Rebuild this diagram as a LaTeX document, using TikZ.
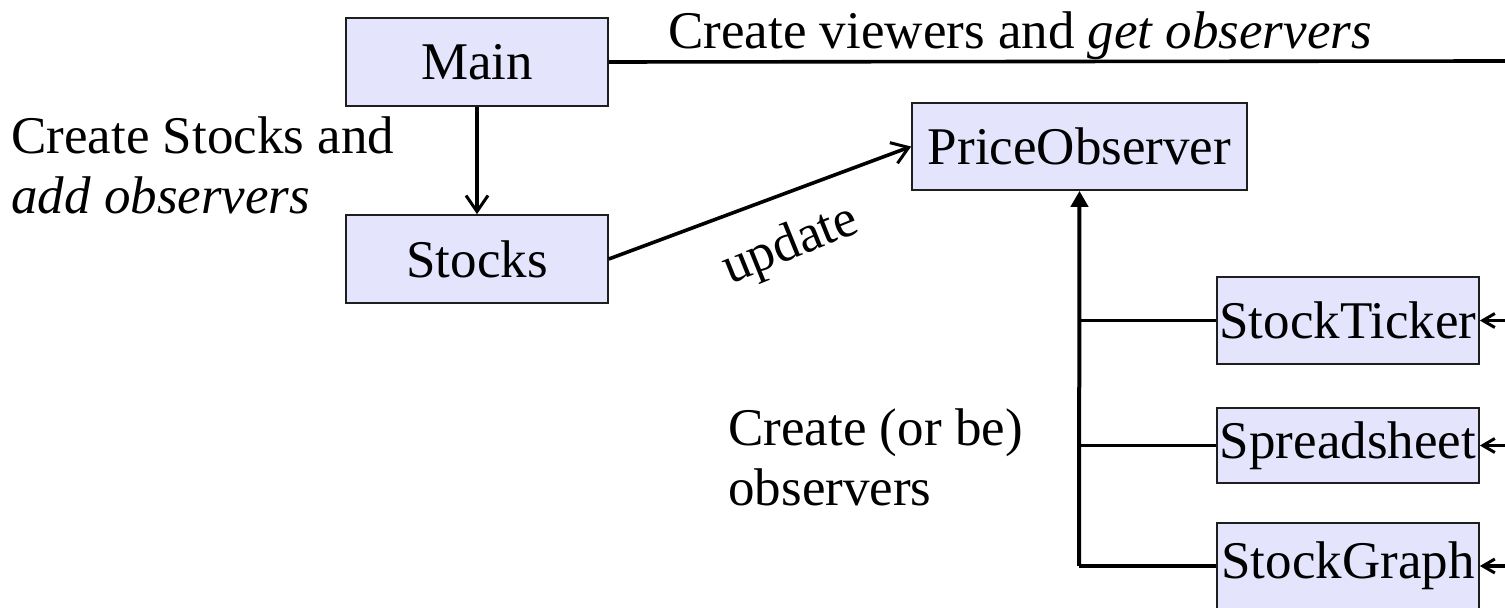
\documentclass[tikz,border=0pt]{standalone}
\usepackage{fontspec}
\setmainfont{Liberation Serif}
\usetikzlibrary{arrows.meta}
\definecolor{boxfill}{RGB}{228,228,252}
\definecolor{boxline}{RGB}{30,30,30}
\tikzset{
  cls/.style={draw=boxline, fill=boxfill, line width=0.85pt, inner sep=0pt,
    minimum width=131pt, minimum height=44pt, font=\fontsize{26.5pt}{30pt}\selectfont},
  lbl/.style={inner sep=0pt, align=left, font=\fontsize{26.5pt}{30pt}\selectfont},
  conn/.style={line width=1.8pt},
  openarr/.style={conn, -{Straight Barb[length=8pt, width=11pt, line width=1.5pt]}},
  smallarr/.style={conn, -{Straight Barb[length=6pt, width=7pt, line width=1.5pt]}},
  fillarr/.style={line width=2pt, -{Triangle[length=8pt, width=8.5pt]}}
}
\begin{document}
\begin{tikzpicture}[x=0.5pt,y=-0.5pt]
\useasboundingbox (0,0) rectangle (1505,608);
\node[cls] (main) at (477,62) {Main};
\node[cls] (stocks) at (477,259) {Stocks};
\node[cls, minimum width=167.5pt, minimum height=43.5pt] (po) at (1079.5,146.5) {PriceObserver};
\node[cls, minimum height=43.5pt] (ticker) at (1348,320.5) {StockTicker};
\node[cls, minimum height=37.5pt] (sheet) at (1348,445.5) {Spreadsheet};
\node[cls, minimum height=43pt] (graph) at (1348,566) {StockGraph};

\node[lbl, anchor=base west] (t1) at (668,49) {Create viewers and \textit{get observers}};
\node[lbl, anchor=base west] (t2) at (11,214) {Create Stocks and\\\textit{add observers}};
\node[lbl, anchor=base west] (t3) at (728,506) {Create (or be)\\observers};
\node[lbl, rotate=22] (upd) at (791,246) {update};

\coordinate (mainEnd) at (1505,61);
\coordinate (j1) at (1079,320.5);
\coordinate (j2) at (1079,445.5);
\coordinate (j3) at (1079,566);
\coordinate (r1) at (1505,320.5);
\coordinate (r2) at (1505,445.5);
\coordinate (r3) at (1505,566);

\draw[conn] (main.east) -- (mainEnd);
\draw[openarr] (main.south) -- (stocks.north);
\draw[openarr] (stocks.east) -- (po.west);
\draw[fillarr] (j3) -- (po.south);
\draw[conn] (j1) -- (ticker.west);
\draw[conn] (j2) -- (sheet.west);
\draw[conn] (j3) -- (graph.west);
\draw[smallarr] (r1) -- (ticker.east);
\draw[smallarr] (r2) -- (sheet.east);
\draw[smallarr] (r3) -- (graph.east);
\end{tikzpicture}
\end{document}
